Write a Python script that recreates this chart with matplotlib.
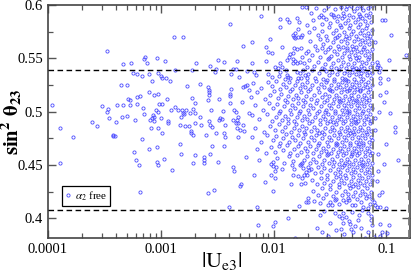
import matplotlib
matplotlib.use("Agg")
import matplotlib.pyplot as plt
from matplotlib.ticker import LogLocator, MultipleLocator, NullFormatter, FormatStrFormatter

plt.rcParams['font.family'] = ['Liberation Serif', 'DejaVu Serif']
plt.rcParams['mathtext.fontset'] = 'stix'

# scan points (|Ue3|, sin^2 theta23), alpha_2 free
# small |Ue3| tail
tail_pts = [
    (1.08e-4, 0.506), (1.28e-4, 0.485), (1.27e-4, 0.452), (1.67e-4, 0.4765), (2.47e-4, 0.490),
    (2.74e-4, 0.487), (3.0e-4, 0.5056), (3.33e-4, 0.557), (3.37e-4, 0.5028), (3.33e-4, 0.500),
    (3.44e-4, 0.4938), (3.75e-4, 0.4778), (3.8e-4, 0.4772), (3.9e-4, 0.4775), (4.0e-4, 0.490),
    (4.13e-4, 0.506), (4.5e-4, 0.4947), (4.47e-4, 0.525), (4.66e-4, 0.5063), (4.66e-4, 0.545),
    (5.0e-4, 0.5247), (5.0e-4, 0.4959), (5.1e-4, 0.5122), (5.28e-4, 0.511), (5.35e-4, 0.5058),
    (5.4e-4, 0.5456), (5.7e-4, 0.5363), (5.9e-4, 0.4919), (5.8e-4, 0.4622), (5.99e-4, 0.4544),
    (6.1e-4, 0.5138), (6.15e-4, 0.535), (6.15e-4, 0.5069), (6.42e-4, 0.4503), (6.48e-4, 0.5147),
    (6.85e-4, 0.5332), (6.85e-4, 0.4744), (6.9e-4, 0.5037), (6.57e-4, 0.4247), (7.04e-4, 0.4975),
    (7.18e-4, 0.5513), (7.08e-4, 0.5497), (7.5e-4, 0.5453), (7.8e-4, 0.465), (7.9e-4, 0.5187),
    (7.94e-4, 0.535), (8.1e-4, 0.4922), (8.2e-4, 0.4847), (8.35e-4, 0.5288), (8.3e-4, 0.4941),
    (8.45e-4, 0.4969), (8.7e-4, 0.4947), (8.65e-4, 0.5156), (8.75e-4, 0.4915), (9.05e-4, 0.5016),
    (9.2e-4, 0.4672), (9.3e-4, 0.550), (9.35e-4, 0.4847), (9.45e-4, 0.5163), (9.5e-4, 0.5366),
    (9.5e-4, 0.4997), (9.2e-4, 0.4531), (9.45e-4, 0.4503), (9.6e-4, 0.5072), (1.0e-3, 0.4938),
    (1.0e-3, 0.5334), (1.03e-3, 0.5069), (1.02e-3, 0.5319), (1.02e-3, 0.480), (1.06e-3, 0.4556),
    (1.1e-3, 0.5475), (1.12e-3, 0.5319), (1.13e-3, 0.5116), (1.15e-3, 0.4891), (1.17e-3, 0.491),
    (1.196e-3, 0.5288), (1.24e-3, 0.5013), (1.25e-3, 0.4453), (1.3e-3, 0.5697), (1.35e-3, 0.5047),
    (1.35e-3, 0.5393), (1.43e-3, 0.5016), (1.47e-3, 0.4872), (1.47e-3, 0.4697), (1.5e-3, 0.460),
    (1.51e-3, 0.4953), (1.54e-3, 0.5016), (1.56e-3, 0.5703), (1.58e-3, 0.499), (1.61e-3, 0.4975),
    (1.65e-3, 0.4866), (1.66e-3, 0.5016), (1.7e-3, 0.5241), (1.78e-3, 0.4869), (1.8e-3, 0.499),
    (1.86e-3, 0.4822), (1.87e-3, 0.4797), (1.89e-3, 0.5391), (1.9e-3, 0.5128), (1.93e-3, 0.4784),
    (1.93e-3, 0.4516), (1.94e-3, 0.5022), (1.99e-3, 0.499), (1.99e-3, 0.4894), (2.0e-3, 0.4597),
    (2.02e-3, 0.5084), (2.05e-3, 0.5453), (2.21e-3, 0.4947), (2.22e-3, 0.5256), (2.28e-3, 0.4878),
    (2.41e-3, 0.4578), (2.41e-3, 0.4544), (2.4e-3, 0.4516), (2.5e-3, 0.4778), (2.6e-3, 0.5106),
    (2.6e-3, 0.5228), (2.64e-3, 0.424), (2.65e-3, 0.5203), (2.67e-3, 0.5181), (2.67e-3, 0.5159),
    (2.67e-3, 0.491), (2.71e-3, 0.460), (2.73e-3, 0.5431), (2.75e-3, 0.4878), (2.76e-3, 0.5013),
    (2.82e-3, 0.4681), (2.84e-3, 0.4859), (2.95e-3, 0.4266), (3.03e-3, 0.5369), (3.11e-3, 0.540),
    (3.11e-3, 0.4803), (3.2e-3, 0.5484), (3.2e-3, 0.4525), (3.27e-3, 0.4922), (3.29e-3, 0.5116),
    (3.37e-3, 0.4944), (3.51e-3, 0.4934), (3.58e-3, 0.5006), (3.6e-3, 0.5466), (3.65e-3, 0.4681),
    (3.67e-3, 0.4797), (3.72e-3, 0.4872), (3.72e-3, 0.476), (3.99e-3, 0.4103), (4.08e-3, 0.5819),
    (4.08e-3, 0.5084), (4.1e-3, 0.5166), (4.1e-3, 0.515), (4.15e-3, 0.5216), (4.15e-3, 0.5353),
    (4.35e-3, 0.4925), (4.4e-3, 0.540), (4.4e-3, 0.4478), (4.43e-3, 0.5019), (4.5e-3, 0.4441),
    (4.6e-3, 0.5397), (4.6e-3, 0.4997), (4.65e-3, 0.4891), (4.7e-3, 0.4922), (4.75e-3, 0.4844),
    (4.78e-3, 0.5472), (4.8e-3, 0.4766), (4.85e-3, 0.4953), (4.88e-3, 0.4894), (4.9e-3, 0.5322),
    (5.01e-3, 0.4828), (5.05e-3, 0.430), (5.1e-3, 0.4319), (5.2e-3, 0.5091), (5.35e-3, 0.5613),
    (5.35e-3, 0.5234), (5.35e-3, 0.4872), (5.45e-3, 0.4822), (5.6e-3, 0.5241), (5.7e-3, 0.4578),
    (5.8e-3, 0.5381), (5.85e-3, 0.5247), (6.0e-3, 0.5203), (6.0e-3, 0.4984),
]

# 0.006 < |Ue3| < 0.02, upper part
upper_left_pts = [
    (0.0178, 0.5984), (0.0193, 0.5984), (0.0078, 0.5897), (0.0113, 0.5866), (0.0132, 0.5866),
    (0.0114, 0.5797), (0.0167, 0.5838), (0.0166, 0.5772), (0.0154, 0.5735), (0.0148, 0.572),
    (0.0152, 0.570), (0.0154, 0.5688), (0.0166, 0.570), (0.0175, 0.570), (0.0178, 0.5719),
    (0.00645, 0.5656), (0.00925, 0.5678), (0.0119, 0.5609), (0.0085, 0.5603), (0.0089, 0.5556),
    (0.0096, 0.5547), (0.0151, 0.560), (0.016, 0.5585), (0.015, 0.5553), (0.0139, 0.554),
    (0.0137, 0.5516), (0.0175, 0.5594), (0.0192, 0.5547), (0.0178, 0.5516), (0.0148, 0.5491),
    (0.0154, 0.5475), (0.015, 0.5453), (0.016, 0.5459), (0.0171, 0.5466), (0.0186, 0.5459),
    (0.0196, 0.5422), (0.0131, 0.5484), (0.0114, 0.5453), (0.0118, 0.5422), (0.0065, 0.5453),
    (0.0086, 0.5475), (0.0103, 0.5422), (0.00675, 0.5375), (0.007, 0.5344), (0.0089, 0.5353),
    (0.0096, 0.5328), (0.011, 0.5406), (0.0114, 0.5375), (0.0112, 0.5334), (0.0128, 0.5391),
    (0.0131, 0.5344), (0.0135, 0.5328), (0.0139, 0.5313), (0.0127, 0.5306), (0.016, 0.5375),
    (0.0171, 0.536), (0.0183, 0.539), (0.019, 0.5344), (0.0175, 0.5313), (0.0166, 0.532),
    (0.0196, 0.5313),
]

# 0.006 < |Ue3| < 0.021, lower part
lower_left_pts = [
    (0.00667, 0.4403), (0.00835, 0.434), (0.0094, 0.4403), (0.0103, 0.438), (0.0098, 0.4488),
    (0.0105, 0.4481), (0.0118, 0.4463), (0.0103, 0.4447), (0.0099, 0.4528), (0.0099, 0.4259),
    (0.0147, 0.4497), (0.0152, 0.446), (0.0149, 0.4409), (0.0143, 0.4319), (0.0171, 0.450),
    (0.0179, 0.4519), (0.0183, 0.4472), (0.0186, 0.4406), (0.0179, 0.4378), (0.0166, 0.4397),
    (0.0195, 0.4434), (0.0199, 0.4406), (0.0203, 0.4481), (0.0191, 0.4331), (0.0176, 0.4322),
    (0.0207, 0.4453), (0.0203, 0.4193), (0.0201, 0.415), (0.0169, 0.4118), (0.0072, 0.4103),
    (0.0073, 0.3938), (0.0103, 0.3969), (0.0098, 0.3925), (0.0134, 0.4006), (0.0156, 0.3816),
]

# main cloud, by sin^2 theta23 band
core_pts = [
    # 0.59 - 0.60
    (0.0215, 0.593), (0.0238, 0.597), (0.0262, 0.591), (0.0281, 0.595), (0.0305, 0.599),
    (0.0322, 0.592), (0.0349, 0.596), (0.0371, 0.590), (0.0398, 0.598), (0.0415, 0.593),
    (0.0442, 0.596), (0.0468, 0.591), (0.0489, 0.599), (0.0512, 0.594), (0.0546, 0.597),
    (0.0571, 0.592), (0.0598, 0.599), (0.0623, 0.595), (0.0655, 0.591), (0.0688, 0.597),
    (0.0719, 0.593), (0.0745, 0.599), (0.0336, 0.591), (0.0452, 0.599), (0.0581, 0.590),
    # 0.58 - 0.59
    (0.0138, 0.584), (0.0162, 0.588), (0.0198, 0.581), (0.0224, 0.586), (0.0251, 0.589),
    (0.0269, 0.582), (0.0293, 0.587), (0.0318, 0.583), (0.0341, 0.589), (0.0362, 0.585),
    (0.0385, 0.581), (0.0407, 0.588), (0.0431, 0.583), (0.0457, 0.586), (0.0478, 0.581),
    (0.0503, 0.589), (0.0529, 0.584), (0.0556, 0.587), (0.0589, 0.582), (0.0612, 0.588),
    (0.0641, 0.585), (0.0676, 0.581), (0.0702, 0.589), (0.0731, 0.584), (0.0923, 0.586),
    (0.0421, 0.590), (0.0277, 0.589), (0.0970, 0.586),
    # 0.57 - 0.58
    (0.0205, 0.575), (0.0229, 0.578), (0.0246, 0.572), (0.0271, 0.576), (0.0289, 0.571),
    (0.0311, 0.579), (0.0333, 0.574), (0.0356, 0.577), (0.0378, 0.572), (0.0394, 0.579),
    (0.0419, 0.575), (0.0439, 0.571), (0.0462, 0.578), (0.0485, 0.573), (0.0508, 0.576),
    (0.0533, 0.571), (0.0559, 0.579), (0.0583, 0.574), (0.0607, 0.577), (0.0632, 0.572),
    (0.0661, 0.578), (0.0694, 0.574), (0.0722, 0.571), (0.0741, 0.577), (0.109, 0.572),
    (0.0366, 0.570),
    # 0.56 - 0.57
    (0.0212, 0.566), (0.0235, 0.562), (0.0258, 0.568), (0.0276, 0.563), (0.0298, 0.567),
    (0.0314, 0.561), (0.0338, 0.565), (0.0352, 0.569), (0.0374, 0.562), (0.0392, 0.566),
    (0.0411, 0.561), (0.0428, 0.568), (0.0449, 0.564), (0.0471, 0.569), (0.0493, 0.562),
    (0.0516, 0.566), (0.0538, 0.561), (0.0563, 0.568), (0.0586, 0.563), (0.0604, 0.567),
    (0.0628, 0.561), (0.0652, 0.565), (0.0679, 0.569), (0.0707, 0.563), (0.0736, 0.567),
    (0.0266, 0.560), (0.0446, 0.560), (0.0789, 0.565),
    # 0.55 - 0.56
    (0.0201, 0.557), (0.0221, 0.553), (0.0243, 0.558), (0.0259, 0.551), (0.0283, 0.556),
    (0.0301, 0.559), (0.0326, 0.552), (0.0344, 0.557), (0.0368, 0.554), (0.0381, 0.559),
    (0.0402, 0.551), (0.0424, 0.555), (0.0447, 0.558), (0.0464, 0.552), (0.0487, 0.556),
    (0.0511, 0.559), (0.0527, 0.553), (0.0549, 0.557), (0.0575, 0.551), (0.0598, 0.556),
    (0.0617, 0.559), (0.0646, 0.553), (0.0668, 0.557), (0.0697, 0.551), (0.0726, 0.555),
    (0.0752, 0.559), (0.149, 0.553), (0.0313, 0.550), (0.0538, 0.550),
    # 0.54 - 0.55
    (0.0208, 0.548), (0.0226, 0.543), (0.0249, 0.547), (0.0267, 0.541), (0.0286, 0.545),
    (0.0304, 0.549), (0.0321, 0.542), (0.0339, 0.546), (0.0358, 0.541), (0.0376, 0.548),
    (0.0397, 0.543), (0.0416, 0.547), (0.0437, 0.541), (0.0455, 0.545), (0.0474, 0.549),
    (0.0496, 0.542), (0.0519, 0.546), (0.0541, 0.541), (0.0566, 0.548), (0.0591, 0.543),
    (0.0614, 0.547), (0.0637, 0.541), (0.0663, 0.546), (0.0691, 0.549), (0.0716, 0.542),
    (0.0739, 0.546), (0.0845, 0.544), (0.0278, 0.540), (0.0508, 0.540), (0.082, 0.547),
    (0.088, 0.541), (0.106, 0.548), (0.082, 0.542),
    # 0.53 - 0.54
    (0.0203, 0.535), (0.0218, 0.539), (0.0233, 0.532), (0.0251, 0.536), (0.0272, 0.531),
    (0.0291, 0.538), (0.0308, 0.534), (0.0327, 0.537), (0.0346, 0.531), (0.0363, 0.535),
    (0.0383, 0.539), (0.0401, 0.532), (0.0418, 0.536), (0.0433, 0.531), (0.0451, 0.538),
    (0.0469, 0.534), (0.0491, 0.537), (0.0513, 0.531), (0.0534, 0.535), (0.0557, 0.539),
    (0.0578, 0.533), (0.0601, 0.536), (0.0624, 0.531), (0.0648, 0.538), (0.0673, 0.534),
    (0.0699, 0.537), (0.0728, 0.532), (0.0749, 0.536), (0.0872, 0.532), (0.104, 0.531),
    (0.0297, 0.530), (0.0441, 0.530), (0.0589, 0.539), (0.086, 0.537),
    # 0.52 - 0.53
    (0.0066, 0.527), (0.0078, 0.522), (0.0089, 0.528), (0.0097, 0.524), (0.0106, 0.529),
    (0.0113, 0.521), (0.0121, 0.526), (0.0129, 0.523), (0.0137, 0.528), (0.0146, 0.521),
    (0.0154, 0.525), (0.0162, 0.529), (0.0171, 0.522), (0.0179, 0.526), (0.0188, 0.523),
    (0.0197, 0.528), (0.0209, 0.521), (0.0221, 0.525), (0.0236, 0.529), (0.0248, 0.522),
    (0.0263, 0.526), (0.0279, 0.523), (0.0294, 0.528), (0.0309, 0.521), (0.0324, 0.525),
    (0.0341, 0.529), (0.0357, 0.522), (0.0372, 0.526), (0.0389, 0.523), (0.0405, 0.528),
    (0.0422, 0.521), (0.0438, 0.525), (0.0456, 0.529), (0.0475, 0.522), (0.0494, 0.526),
    (0.0512, 0.523), (0.0533, 0.528), (0.0552, 0.521), (0.0574, 0.525), (0.0596, 0.529),
    (0.0619, 0.522), (0.0643, 0.526), (0.0668, 0.523), (0.0694, 0.528), (0.0721, 0.521),
    (0.0744, 0.525), (0.0875, 0.527), (0.0316, 0.520), (0.0466, 0.520), (0.0585, 0.520),
    # 0.51 - 0.52
    (0.0063, 0.514), (0.0072, 0.518), (0.0084, 0.512), (0.0093, 0.516), (0.0101, 0.519),
    (0.0109, 0.513), (0.0117, 0.517), (0.0125, 0.511), (0.0133, 0.515), (0.0141, 0.519),
    (0.0149, 0.512), (0.0158, 0.516), (0.0166, 0.513), (0.0175, 0.518), (0.0184, 0.511),
    (0.0193, 0.515), (0.0203, 0.519), (0.0215, 0.512), (0.0228, 0.516), (0.0241, 0.511),
    (0.0255, 0.518), (0.0268, 0.514), (0.0283, 0.517), (0.0298, 0.511), (0.0313, 0.515),
    (0.0329, 0.519), (0.0345, 0.512), (0.0361, 0.516), (0.0378, 0.513), (0.0394, 0.518),
    (0.0411, 0.511), (0.0427, 0.515), (0.0444, 0.519), (0.0462, 0.512), (0.0481, 0.516),
    (0.0499, 0.513), (0.0519, 0.518), (0.0539, 0.511), (0.0561, 0.515), (0.0582, 0.519),
    (0.0605, 0.512), (0.0628, 0.516), (0.0654, 0.513), (0.0681, 0.518), (0.0708, 0.511),
    (0.0735, 0.515), (0.100, 0.518), (0.088, 0.516), (0.0382, 0.510), (0.0547, 0.510),
    # 0.50 - 0.51
    (0.0068, 0.506), (0.0081, 0.502), (0.0091, 0.508), (0.0099, 0.503), (0.0107, 0.507),
    (0.0115, 0.501), (0.0123, 0.505), (0.0131, 0.509), (0.0139, 0.502), (0.0147, 0.506),
    (0.0156, 0.503), (0.0164, 0.508), (0.0173, 0.501), (0.0182, 0.505), (0.0191, 0.509),
    (0.0201, 0.502), (0.0212, 0.506), (0.0225, 0.503), (0.0238, 0.508), (0.0252, 0.501),
    (0.0265, 0.505), (0.0279, 0.509), (0.0294, 0.502), (0.0307, 0.506), (0.0322, 0.503),
    (0.0337, 0.508), (0.0353, 0.501), (0.0369, 0.505), (0.0385, 0.509), (0.0403, 0.502),
    (0.0419, 0.506), (0.0436, 0.503), (0.0453, 0.508), (0.0471, 0.501), (0.0489, 0.505),
    (0.0508, 0.509), (0.0528, 0.502), (0.0549, 0.506), (0.0571, 0.503), (0.0593, 0.508),
    (0.0616, 0.501), (0.0639, 0.505), (0.0663, 0.509), (0.0689, 0.502), (0.0716, 0.506),
    (0.0742, 0.503), (0.095, 0.509), (0.108, 0.499), (0.086, 0.500), (0.0286, 0.500),
    (0.0447, 0.500),
    # 0.49 - 0.50
    (0.0064, 0.497), (0.0075, 0.493), (0.0087, 0.498), (0.0096, 0.491), (0.0104, 0.495),
    (0.0112, 0.499), (0.0119, 0.492), (0.0127, 0.496), (0.0135, 0.493), (0.0143, 0.498),
    (0.0152, 0.491), (0.0161, 0.495), (0.0169, 0.499), (0.0178, 0.492), (0.0187, 0.496),
    (0.0196, 0.493), (0.0206, 0.498), (0.0218, 0.491), (0.0231, 0.495), (0.0244, 0.499),
    (0.0258, 0.492), (0.0272, 0.496), (0.0287, 0.493), (0.0301, 0.498), (0.0316, 0.491),
    (0.0332, 0.495), (0.0348, 0.499), (0.0364, 0.492), (0.0381, 0.496), (0.0398, 0.493),
    (0.0415, 0.498), (0.0432, 0.491), (0.0449, 0.495), (0.0467, 0.499), (0.0485, 0.492),
    (0.0504, 0.496), (0.0523, 0.493), (0.0544, 0.498), (0.0566, 0.491), (0.0588, 0.495),
    (0.0611, 0.499), (0.0634, 0.492), (0.0659, 0.496), (0.0685, 0.493), (0.0711, 0.498),
    (0.0738, 0.491), (0.0791, 0.494), (0.0336, 0.490), (0.0528, 0.490),
    # 0.48 - 0.49
    (0.0069, 0.485), (0.0083, 0.481), (0.0092, 0.487), (0.0102, 0.483), (0.0111, 0.488),
    (0.0118, 0.482), (0.0126, 0.486), (0.0134, 0.489), (0.0142, 0.481), (0.0151, 0.485),
    (0.0159, 0.488), (0.0168, 0.483), (0.0177, 0.487), (0.0186, 0.481), (0.0195, 0.485),
    (0.0205, 0.489), (0.0216, 0.482), (0.0229, 0.486), (0.0242, 0.483), (0.0256, 0.488),
    (0.0269, 0.481), (0.0284, 0.485), (0.0299, 0.489), (0.0314, 0.482), (0.0329, 0.486),
    (0.0344, 0.483), (0.0361, 0.488), (0.0377, 0.481), (0.0393, 0.485), (0.0411, 0.489),
    (0.0428, 0.482), (0.0445, 0.486), (0.0463, 0.483), (0.0482, 0.488), (0.0501, 0.481),
    (0.0521, 0.485), (0.0541, 0.489), (0.0563, 0.482), (0.0585, 0.486), (0.0607, 0.483),
    (0.0631, 0.488), (0.0656, 0.481), (0.0682, 0.485), (0.0709, 0.489), (0.0734, 0.482),
    (0.0791, 0.483), (0.119, 0.486), (0.120, 0.481), (0.0254, 0.480), (0.0473, 0.480),
    # 0.47 - 0.48
    (0.0065, 0.476), (0.0077, 0.472), (0.0088, 0.478), (0.0098, 0.473), (0.0106, 0.477),
    (0.0114, 0.471), (0.0122, 0.475), (0.0129, 0.479), (0.0138, 0.472), (0.0146, 0.476),
    (0.0155, 0.473), (0.0163, 0.478), (0.0172, 0.471), (0.0181, 0.475), (0.0191, 0.479),
    (0.0202, 0.472), (0.0214, 0.476), (0.0226, 0.473), (0.0239, 0.478), (0.0253, 0.471),
    (0.0267, 0.475), (0.0281, 0.479), (0.0296, 0.472), (0.0311, 0.476), (0.0326, 0.473),
    (0.0342, 0.478), (0.0358, 0.471), (0.0374, 0.475), (0.0391, 0.479), (0.0408, 0.472),
    (0.0425, 0.476), (0.0442, 0.473), (0.0459, 0.478), (0.0478, 0.471), (0.0497, 0.475),
    (0.0516, 0.479), (0.0536, 0.472), (0.0558, 0.476), (0.0579, 0.473), (0.0602, 0.478),
    (0.0625, 0.471), (0.0649, 0.475), (0.0674, 0.479), (0.0701, 0.472), (0.0728, 0.476),
    (0.0751, 0.473), (0.0365, 0.470), (0.0568, 0.470), (0.100, 0.470),
    # 0.46 - 0.47
    (0.0071, 0.465), (0.0086, 0.461), (0.0095, 0.467), (0.0103, 0.462), (0.0111, 0.468),
    (0.0121, 0.464), (0.0132, 0.469), (0.0141, 0.461), (0.0153, 0.465), (0.0165, 0.468),
    (0.0176, 0.462), (0.0189, 0.466), (0.0199, 0.463), (0.0211, 0.468), (0.0223, 0.461),
    (0.0236, 0.465), (0.0249, 0.469), (0.0262, 0.462), (0.0277, 0.466), (0.0292, 0.463),
    (0.0306, 0.468), (0.0321, 0.461), (0.0338, 0.465), (0.0354, 0.469), (0.0371, 0.462),
    (0.0388, 0.466), (0.0405, 0.463), (0.0422, 0.468), (0.0439, 0.461), (0.0457, 0.465),
    (0.0476, 0.469), (0.0495, 0.462), (0.0514, 0.466), (0.0534, 0.463), (0.0555, 0.468),
    (0.0577, 0.461), (0.0599, 0.465), (0.0622, 0.469), (0.0646, 0.462), (0.0671, 0.466),
    (0.0698, 0.463), (0.0725, 0.468), (0.0748, 0.461), (0.0302, 0.460), (0.0498, 0.460),
    (0.085, 0.460),
    # 0.45 - 0.46
    (0.0074, 0.455), (0.0094, 0.451), (0.0108, 0.457), (0.0124, 0.452), (0.0136, 0.458),
    (0.0148, 0.454), (0.0161, 0.459), (0.0174, 0.451), (0.0186, 0.455), (0.0198, 0.458),
    (0.0211, 0.452), (0.0224, 0.456), (0.0237, 0.453), (0.0251, 0.458), (0.0266, 0.451),
    (0.0281, 0.455), (0.0297, 0.459), (0.0312, 0.452), (0.0328, 0.456), (0.0345, 0.453),
    (0.0362, 0.458), (0.0379, 0.451), (0.0396, 0.455), (0.0414, 0.459), (0.0431, 0.452),
    (0.0449, 0.456), (0.0468, 0.453), (0.0487, 0.458), (0.0507, 0.451), (0.0528, 0.455),
    (0.0549, 0.459), (0.0571, 0.452), (0.0594, 0.456), (0.0617, 0.453), (0.0642, 0.458),
    (0.0667, 0.451), (0.0693, 0.455), (0.0719, 0.459), (0.0743, 0.452), (0.0421, 0.450),
    (0.0612, 0.450), (0.095, 0.451), (0.128, 0.455),
    # 0.44 - 0.45
    (0.0216, 0.446), (0.0232, 0.442), (0.0249, 0.448), (0.0264, 0.443), (0.0282, 0.447),
    (0.0299, 0.441), (0.0317, 0.445), (0.0334, 0.449), (0.0352, 0.442), (0.0371, 0.446),
    (0.0389, 0.443), (0.0408, 0.448), (0.0427, 0.441), (0.0446, 0.445), (0.0466, 0.449),
    (0.0486, 0.442), (0.0507, 0.446), (0.0529, 0.443), (0.0551, 0.448), (0.0574, 0.441),
    (0.0597, 0.445), (0.0621, 0.449), (0.0646, 0.442), (0.0672, 0.446), (0.0699, 0.443),
    (0.0726, 0.448), (0.0749, 0.441), (0.0845, 0.444), (0.0391, 0.440),
    # 0.43 - 0.44
    (0.0219, 0.436), (0.0241, 0.432), (0.0261, 0.438), (0.0279, 0.433), (0.0297, 0.437),
    (0.0318, 0.431), (0.0339, 0.435), (0.0358, 0.439), (0.0379, 0.432), (0.0399, 0.436),
    (0.0421, 0.433), (0.0442, 0.438), (0.0463, 0.431), (0.0485, 0.435), (0.0508, 0.439),
    (0.0531, 0.432), (0.0556, 0.436), (0.0581, 0.433), (0.0606, 0.438), (0.0633, 0.431),
    (0.0661, 0.435), (0.0689, 0.439), (0.0717, 0.432), (0.0744, 0.436), (0.0508, 0.430),
    (0.083, 0.435),
    # 0.42 - 0.43
    (0.0223, 0.426), (0.0247, 0.422), (0.0271, 0.428), (0.0293, 0.423), (0.0315, 0.427),
    (0.0337, 0.421), (0.0361, 0.425), (0.0384, 0.429), (0.0407, 0.422), (0.0431, 0.426),
    (0.0455, 0.423), (0.0479, 0.428), (0.0503, 0.421), (0.0529, 0.425), (0.0556, 0.429),
    (0.0584, 0.422), (0.0612, 0.426), (0.0642, 0.423), (0.0673, 0.428), (0.0704, 0.421),
    (0.0736, 0.425), (0.0862, 0.422), (0.091, 0.425),
    # 0.41 - 0.42
    (0.0229, 0.416), (0.0277, 0.419), (0.0302, 0.412), (0.0358, 0.418), (0.0381, 0.413),
    (0.0412, 0.417), (0.0456, 0.419), (0.0495, 0.412), (0.0546, 0.418), (0.0593, 0.415),
    (0.0658, 0.419), (0.0716, 0.413), (0.0741, 0.418), (0.0194, 0.4156), (0.0257, 0.4147),
    (0.0316, 0.4156), (0.035, 0.4172), (0.033, 0.4125), (0.044, 0.4156), (0.047, 0.4172),
    (0.0524, 0.4125), (0.0625, 0.411), (0.077, 0.4156), (0.0796, 0.4125), (0.082, 0.4109),
    (0.0877, 0.4109), (0.100, 0.4094), (0.0688, 0.4094),
    # 0.40 - 0.41
    (0.0348, 0.4053), (0.0412, 0.4047), (0.0407, 0.400), (0.0442, 0.4016), (0.0688, 0.4047),
    (0.0281, 0.407), (0.0378, 0.402), (0.0498, 0.406), (0.0567, 0.403), (0.0612, 0.408),
    (0.0731, 0.402), (0.0256, 0.403),
    # 0.38 - 0.40
    (0.0242, 0.3906), (0.0268, 0.3875), (0.0412, 0.3953), (0.0398, 0.3897), (0.0422, 0.385),
    (0.0462, 0.3978), (0.048, 0.3947), (0.0489, 0.3897), (0.0508, 0.3875), (0.0524, 0.3928),
    (0.0647, 0.3813), (0.0737, 0.3984), (0.0753, 0.3938), (0.0879, 0.3947), (0.1048, 0.3938),
    (0.101, 0.386), (0.092, 0.3875), (0.077, 0.3828), (0.0872, 0.3834), (0.0318, 0.396),
    (0.0357, 0.389), (0.0566, 0.398), (0.0598, 0.391), (0.0681, 0.387), (0.0304, 0.383),
]

# reference bounds
s23_bounds = [0.539, 0.408]
ue3_bounds = [0.0758, 0.158]

xticks = [1e-4, 1e-3, 1e-2, 1e-1]
xticklabels = ['0.0001', '0.001', '0.01', '0.1']

pts = tail_pts + upper_left_pts + lower_left_pts + core_pts
ue3 = [p[0] for p in pts]
s23 = [p[1] for p in pts]

fig = plt.figure(figsize=(4.16, 2.80), dpi=100)
ax = fig.add_axes([0.1154, 0.15, 0.8702, 0.832])

ax.plot(ue3, s23, ls='none', marker='o', ms=2.3, mfc='none', mec='#4a4aff',
        mew=0.6, label=r'$\alpha_2$ free', zorder=2)

for b in s23_bounds:
    ax.axhline(b, color='black', ls=(0, (4, 2.5)), lw=1.0, zorder=3)
for b in ue3_bounds:
    ax.axvline(b, color='#777777', ls=(0, (4.5, 2.5)), lw=1.3, zorder=3)

ax.set_xscale('log')
ax.set_xlim(1e-4, 0.162)
ax.set_ylim(0.3815, 0.6)

ax.set_xticks(xticks)
ax.set_xticklabels(xticklabels)
ax.xaxis.set_minor_locator(LogLocator(base=10, subs=range(2, 10)))
ax.xaxis.set_minor_formatter(NullFormatter())
ax.yaxis.set_major_locator(MultipleLocator(0.05))
ax.yaxis.set_minor_locator(MultipleLocator(0.025))
ax.yaxis.set_major_formatter(FormatStrFormatter('%g'))

ax.tick_params(which='both', direction='in', top=True, right=True, labelsize=10.5,
               color='#555555')
ax.tick_params(which='major', length=6, width=1.0)
ax.tick_params(which='minor', length=3.5, width=0.9)
for sp in ax.spines.values():
    sp.set_linewidth(1.2)
    sp.set_color('#444444')

ax.set_xlabel(r'$|\mathrm{U}_{\mathrm{e3}}|$', fontsize=16, labelpad=0)
ax.xaxis.set_label_coords(0.48, -0.05)
ax.set_ylabel(r'$\mathbf{sin^2\ \theta_{23}}$', fontsize=15)
ax.yaxis.set_label_coords(-0.066, 0.5)

leg = ax.legend(loc='lower left', bbox_to_anchor=(0.038, 0.137), frameon=True,
                fancybox=False, edgecolor='black', framealpha=1, fontsize=8,
                handlelength=0.5, handletextpad=0.35, borderpad=0.3, borderaxespad=0,
                markerscale=1.0)
leg.get_frame().set_linewidth(0.9)

fig.savefig('out.png', dpi=100)
